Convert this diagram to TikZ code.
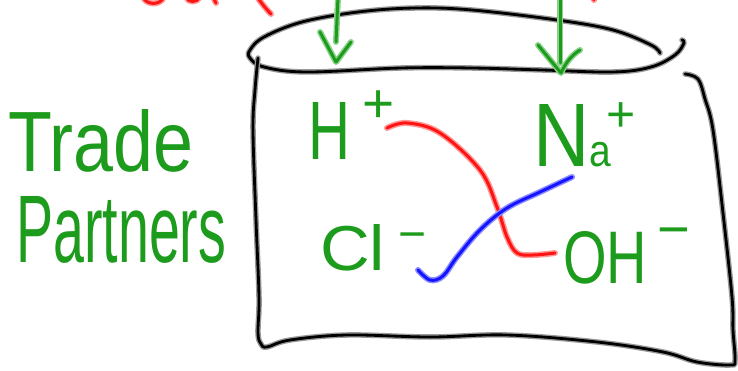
\documentclass[tikz,border=0pt]{standalone}
\usepackage{fontspec}
\setmainfont{Liberation Sans}
\usepackage{graphicx}
\definecolor{pengreen}{RGB}{28,155,28}
\definecolor{halogreen}{RGB}{140,210,140}
\definecolor{penred}{RGB}{255,20,20}
\definecolor{halored}{RGB}{255,150,150}
\definecolor{penblue}{RGB}{20,20,255}
\definecolor{haloblue}{RGB}{140,140,255}
\newcommand\fitbox[3]{\resizebox{#1pt}{#2pt}{#3}}
\tikzset{
  blackpen/.style={draw=black, line width=2.8pt, line cap=round, line join=round,
    preaction={draw=black!40, line width=5.5pt, line cap=round, line join=round}},
  greenpen/.style={draw=pengreen, line width=3pt, line cap=round, line join=round,
    preaction={draw=halogreen, line width=6pt, line cap=round, line join=round}},
  redpen/.style={draw=penred, line width=3pt, line cap=round, line join=round,
    preaction={draw=halored, line width=6pt, line cap=round, line join=round}},
  bluepen/.style={draw=penblue, line width=3pt, line cap=round, line join=round,
    preaction={draw=haloblue, line width=6pt, line cap=round, line join=round}},
  hand/.style={text=pengreen, inner sep=0pt, anchor=base west}
}
\begin{document}
\begin{tikzpicture}[x=1pt,y=-1pt]
\useasboundingbox (0,0) rectangle (738,371);
% red fragments at the top
\draw[redpen] (143,-3) .. controls (146,5) and (160,6) .. (164,-3);
\draw[redpen] (186,-3) .. controls (188,3) and (197,3) .. (200,-3);
\draw[redpen] (214,-1) -- (216,3);
\draw[redpen] (257,-3) .. controls (263,5) and (267,10) .. (271,14);
\draw[redpen] (593,-2) -- (594,0);
% lid
\draw[blackpen] plot[smooth, tension=0.6] coordinates {(660,53) (651,45) (613,30) (557,20) (472,10) (415,8) (358,12) (302,22) (264,37) (250,50) (250,58) (264,67) (307,72) (401,68) (472,68) (542,70) (613,72) (651,67) (675,55) (684,43) (682,40)};
% box
\draw[blackpen] plot[smooth, tension=0.6] coordinates {(258,58) (255,90) (253,130) (256,220) (259,297) (258,333) (261,344) (267,347) (290,340) (347,335) (430,337) (507,335) (597,342) (663,352) (697,362) (730,365) (735,360) (733,330) (732,297) (723,213) (713,130) (705,99) (698,79) (685,74)};
% green arrows
\coordinate (la) at (336,62);
\coordinate (ra) at (561,73);
\draw[greenpen] (338,-3) -- (336,42);
\draw[greenpen] (320,32) -- (la) -- (351,42);
\draw[greenpen] (560,-3) -- (560,63);
\draw[greenpen] (538,45) -- (ra) .. controls (566,62) and (572,55) .. (580,50);
% texts
\node[hand] (trade) at (8,172) {\fitbox{185}{62}{Trade}};
\node[hand] (partners) at (16,262) {\fitbox{210}{66}{Partners}};
\node[hand] (h) at (308,160) {\fitbox{42}{57}{H}};
\node[hand] (hplus) at (362,123) {\fontsize{55}{55}\selectfont +};
\node[hand] (na) at (533,167) {\fitbox{78}{62}{N{\fontsize{5}{5}\selectfont a}}\kern-5pt\raisebox{35pt}{\fontsize{50}{50}\selectfont +}};
\node[hand] (cl) at (320,270) {\fitbox{65}{46}{Cl}};
\node[hand] (clminus) at (398,251) {\fontsize{48}{48}\selectfont −};
\node[hand] (oh) at (563,283) {\fitbox{84}{52}{OH}};
\node[hand] (ohminus) at (657,248) {\fontsize{56}{56}\selectfont −};
% trade lines
\coordinate (rs) at (387,128);
\coordinate (re) at (555,253);
\coordinate (bs) at (572,177);
\coordinate (be) at (418,270);
\draw[redpen] plot[smooth, tension=0.6] coordinates {(rs) (407,123) (440,133) (480,170) (497,207) (507,237) (517,253) (533,255) (re)};
\draw[bluepen] plot[smooth, tension=0.6] coordinates {(bs) (540,192) (507,208) (480,230) (457,257) (443,276) (430,280) (be)};
\end{tikzpicture}
\end{document}
